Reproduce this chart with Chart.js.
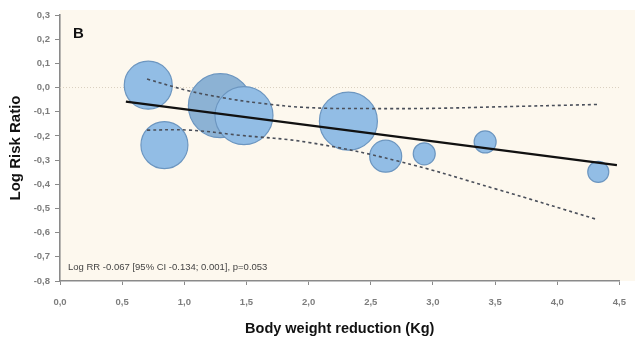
<!DOCTYPE html>
<html>
<head>
<meta charset="utf-8">
<script src="https://cdn.jsdelivr.net/npm/chart.js@4.4.1/dist/chart.umd.min.js"></script>
<style>
  html, body { margin: 0; padding: 0; background: #ffffff; }
  #wrap { width: 638px; height: 338px; }
</style>
</head>
<body>
<div id="wrap"><canvas id="c" width="638" height="338"></canvas></div>
<script>
// Individual studies: mean body weight reduction (kg), log risk ratio, bubble size (study weight)
const weightLoss = [0.71, 0.84, 1.29, 1.48, 2.32, 2.62, 2.93, 3.42, 4.33];
const logRR      = [0.01, -0.238, -0.075, -0.116, -0.139, -0.284, -0.274, -0.225, -0.349];
const studySize  = [24, 23.5, 32, 29, 29, 16, 11, 11, 10.5];

// Meta-regression fit and its 95% confidence band
const fitX   = [0.53, 4.48];
const fitY   = [-0.058, -0.321];
const upperX = [0.70, 1.04, 1.30, 1.60, 2.00, 2.50, 3.00, 3.50, 4.32];
const upperY = [0.035, -0.014, -0.041, -0.064, -0.083, -0.087, -0.086, -0.080, -0.070];
const lowerX = [0.70, 1.04, 1.44, 2.00, 2.71, 3.51, 4.31];
const lowerY = [-0.176, -0.176, -0.197, -0.227, -0.303, -0.420, -0.544];

const xTickLabels = ['0,0', '0,5', '1,0', '1,5', '2,0', '2,5', '3,0', '3,5', '4,0', '4,5'];
const yTickLabels = ['-0,8', '-0,7', '-0,6', '-0,5', '-0,4', '-0,3', '-0,2', '-0,1', '0,0', '0,1', '0,2', '0,3'];

const panelLabel = 'B';
const summaryText = 'Log RR -0.067 [95% CI -0.134; 0.001], p=0.053';

const pairs = (xs, ys) => xs.map((x, i) => ({ x: x, y: ys[i] }));

const bubbleFill = weightLoss.map((_, i) => i === 2 ? 'rgb(140,178,212)' : 'rgb(146,189,229)');

const panelBackground = {
  id: 'panelBackground',
  beforeDraw(chart) {
    const { ctx, chartArea } = chart;
    ctx.save();
    ctx.fillStyle = '#ffffff';
    ctx.fillRect(0, 0, chart.width, chart.height);
    ctx.fillStyle = '#fdf8ee';
    ctx.fillRect(chartArea.left, 10, 635 - chartArea.left, chartArea.bottom - 10);
    ctx.restore();
  },
  afterDraw(chart) {
    const { ctx, chartArea } = chart;
    ctx.save();
    ctx.fillStyle = '#111111';
    ctx.font = 'bold 15px "Liberation Sans", Arial, sans-serif';
    ctx.textBaseline = 'alphabetic';
    ctx.fillText(panelLabel, chartArea.left + 13, 38);
    ctx.fillStyle = '#444444';
    ctx.font = '9.5px "Liberation Sans", Arial, sans-serif';
    ctx.textBaseline = 'middle';
    ctx.fillText(summaryText, chartArea.left + 8, 267);
    ctx.restore();
  }
};

new Chart(document.getElementById('c'), {
  type: 'bubble',
  data: {
    datasets: [
      {
        type: 'line',
        data: pairs([0, 4.5], [0, 0]),
        borderColor: '#d9cfbf',
        borderWidth: 1,
        borderDash: [1, 2],
        pointRadius: 0,
        order: 3
      },
      {
        data: weightLoss.map((x, i) => ({ x: x, y: logRR[i], r: studySize[i] })),
        backgroundColor: bubbleFill,
        borderColor: 'rgb(108,150,192)',
        borderWidth: 1.2,
        order: 2
      },
      {
        type: 'line',
        data: pairs(upperX, upperY),
        borderColor: '#4a4f5a',
        borderWidth: 1.6,
        borderDash: [3, 3],
        pointRadius: 0,
        tension: 0.4,
        order: 1
      },
      {
        type: 'line',
        data: pairs(lowerX, lowerY),
        borderColor: '#4a4f5a',
        borderWidth: 1.6,
        borderDash: [3, 3],
        pointRadius: 0,
        tension: 0.4,
        order: 1
      },
      {
        type: 'line',
        data: pairs(fitX, fitY),
        borderColor: '#111111',
        borderWidth: 2.4,
        pointRadius: 0,
        order: 0
      }
    ]
  },
  options: {
    responsive: false,
    animation: false,
    events: [],
    layout: { autoPadding: false, padding: { top: 15, right: 14, left: 0, bottom: 0 } },
    plugins: { legend: { display: false }, tooltip: { enabled: false } },
    scales: {
      x: {
        type: 'linear',
        min: 0, max: 4.5,
        afterFit(scale) { scale.height = 57; },
        ticks: {
          stepSize: 0.5,
          padding: 12,
          color: '#7d7d7d',
          font: { family: '"Liberation Sans", Arial, sans-serif', size: 9.5, weight: 'bold' },
          callback: (v, i) => xTickLabels[i]
        },
        grid: { drawOnChartArea: false, tickLength: 4, color: '#8a8a8a', tickColor: '#8a8a8a', lineWidth: 1 },
        border: { color: '#8a8a8a', width: 1.6 },
        title: {
          display: true,
          text: 'Body weight reduction (Kg)',
          color: '#111111',
          font: { family: '"Liberation Sans", Arial, sans-serif', size: 14.5, weight: 'bold' },
          padding: { top: 0, bottom: 0 }
        }
      },
      y: {
        type: 'linear',
        min: -0.8, max: 0.3,
        afterFit(scale) { scale.width = 60; },
        ticks: {
          stepSize: 0.1,
          padding: 5,
          color: '#7d7d7d',
          font: { family: '"Liberation Sans", Arial, sans-serif', size: 9.5, weight: 'bold' },
          callback: (v, i) => yTickLabels[i]
        },
        grid: { drawOnChartArea: false, tickLength: 5, color: '#8a8a8a', tickColor: '#8a8a8a', lineWidth: 1 },
        border: { color: '#8a8a8a', width: 1.6 },
        title: {
          display: true,
          text: 'Log Risk Ratio',
          color: '#111111',
          font: { family: '"Liberation Sans", Arial, sans-serif', size: 15, weight: 'bold' },
          padding: { top: 7, bottom: 0 }
        }
      }
    }
  },
  plugins: [panelBackground]
});
</script>
</body>
</html>
